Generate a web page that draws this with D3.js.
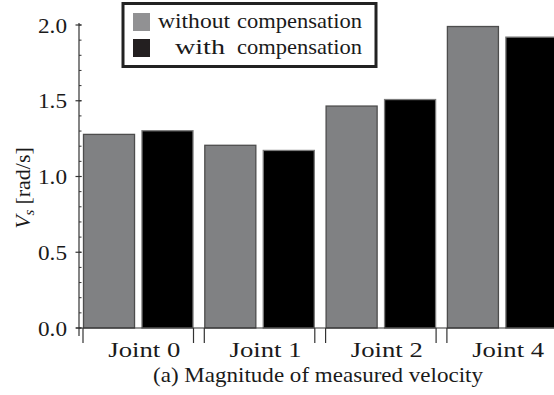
<!DOCTYPE html>
<html>
<head>
<meta charset="utf-8">
<script src="https://cdn.jsdelivr.net/npm/d3@7/dist/d3.min.js"></script>
<style>
  html, body { margin: 0; padding: 0; background: #fff; }
  svg { display: block; }
  text { font-family: "Liberation Serif", "DejaVu Serif", serif; fill: #1a1a1a; }
</style>
</head>
<body>
<svg id="chart" width="554" height="395"></svg>
<script>
// Magnitude of measured velocity per joint, with and without compensation
const joints = ["Joint 0", "Joint 1", "Joint 2", "Joint 4"];
const seriesNames = ["without compensation", "with compensation"];
const withoutComp = [1.278, 1.206, 1.465, 1.99];
const withComp = [1.302, 1.172, 1.508, 1.92];
const yTicks = [0.0, 0.5, 1.0, 1.5, 2.0];
const yMinorTicks = d3.range(0, 2.0001, 0.1);

const svg = d3.select("#chart");
const W = 554, H = 395;

const x0 = d3.scaleBand().domain(joints).range([83, 557.4]).paddingInner(0.089).paddingOuter(0);
const x1 = d3.scaleBand().domain(seriesNames).range([0, x0.bandwidth()]).paddingInner(0.11).paddingOuter(0);
const y = d3.scaleLinear().domain([0, 2]).range([328, 25]);

const fills = { "without compensation": "#808183", "with compensation": "#000000" };
const strokes = { "without compensation": "#4d4d4d", "with compensation": "#7a7a7a" };

const rows = joints.map((j, i) => ({ joint: j, values: [
  { s: seriesNames[0], v: withoutComp[i] },
  { s: seriesNames[1], v: withComp[i] }
]}));

// bars
const g = svg.append("g");
const groups = g.selectAll("g.grp").data(rows).enter().append("g")
  .attr("transform", d => `translate(${x0(d.joint)},0)`);
groups.selectAll("rect").data(d => d.values).enter().append("rect")
  .attr("x", d => x1(d.s) + 0.5)
  .attr("width", x1.bandwidth() - 1)
  .attr("y", d => y(d.v))
  .attr("height", d => y(0) - y(d.v))
  .attr("fill", d => fills[d.s])
  .attr("stroke", d => strokes[d.s])
  .attr("stroke-width", 1.3);

// y axis
const axisColor = "#333";
svg.append("line").attr("x1", 79).attr("x2", 79).attr("y1", y(2) - 2).attr("y2", 336)
  .attr("stroke", axisColor).attr("stroke-width", 1.2);
svg.selectAll("line.minor").data(yMinorTicks).enter().append("line")
  .attr("x1", 79).attr("x2", 81.5)
  .attr("y1", d => y(d)).attr("y2", d => y(d))
  .attr("stroke", axisColor).attr("stroke-width", 1);
svg.selectAll("line.major").data(yTicks).enter().append("line")
  .attr("x1", 75.5).attr("x2", 81.5)
  .attr("y1", d => y(d)).attr("y2", d => y(d))
  .attr("stroke", axisColor).attr("stroke-width", 1.2);
svg.selectAll("text.ytick").data(yTicks).enter().append("text")
  .attr("x", 67).attr("y", d => y(d) + 7.5)
  .attr("text-anchor", "end")
  .attr("font-size", 22)
  .attr("textLength", 29).attr("lengthAdjust", "spacingAndGlyphs")
  .text(d => d.toFixed(1));

// x axis line and group boundary ticks
svg.append("line").attr("x1", 76).attr("x2", W).attr("y1", 328).attr("y2", 328)
  .attr("stroke", axisColor).attr("stroke-width", 1.2);
const edges = [];
joints.forEach(j => { edges.push(x0(j)); edges.push(x0(j) + x0.bandwidth()); });
svg.selectAll("line.xt").data(edges.filter(e => e < W)).enter().append("line")
  .attr("x1", d => d).attr("x2", d => d)
  .attr("y1", 328).attr("y2", 343)
  .attr("stroke", axisColor).attr("stroke-width", 1.2);
svg.selectAll("text.xlab").data(joints).enter().append("text")
  .attr("x", d => x0(d) + x0.bandwidth() / 2 + 6)
  .attr("y", 357)
  .attr("text-anchor", "middle")
  .attr("font-size", 22)
  .attr("textLength", 72).attr("lengthAdjust", "spacingAndGlyphs")
  .text(d => d);

// caption
svg.append("text").attr("x", 318).attr("y", 382)
  .attr("text-anchor", "middle").attr("font-size", 21)
  .attr("textLength", 330).attr("lengthAdjust", "spacingAndGlyphs")
  .text("(a) Magnitude of measured velocity");

// y label
const yl = svg.append("text")
  .attr("transform", "translate(30,188) rotate(-90)")
  .attr("text-anchor", "middle")
  .attr("font-size", 22);
yl.append("tspan").attr("font-style", "italic").text("V");
yl.append("tspan").attr("font-style", "italic").attr("font-size", 15).attr("dy", 4).text("s");
yl.append("tspan").attr("dy", -4).attr("dx", 5).text("[rad/s]");

// legend
const leg = svg.append("g");
leg.append("rect").attr("x", 123).attr("y", 3.5).attr("width", 253).attr("height", 63)
  .attr("fill", "#fff").attr("stroke", "#222").attr("stroke-width", 3);
const legendSwatch = ["#919193", "#231f20"];
const firstWordWidth = [70, 53];
seriesNames.forEach((s, i) => {
  const yy = 13 + i * 26;
  leg.append("rect").attr("x", 133).attr("y", yy).attr("width", 17).attr("height", 18)
    .attr("fill", legendSwatch[i]);
  const words = s.split(" ");
  leg.append("text").attr("x", i === 0 ? 158 : 175).attr("y", 28 + i * 26)
    .attr("font-size", 21)
    .attr("textLength", i === 0 ? 72 : 50).attr("lengthAdjust", "spacingAndGlyphs")
    .text(words[0]);
  leg.append("text").attr("x", 237).attr("y", 28 + i * 26)
    .attr("font-size", 21).attr("textLength", 125).attr("lengthAdjust", "spacingAndGlyphs")
    .text(words[1]);
});
</script>
</body>
</html>
